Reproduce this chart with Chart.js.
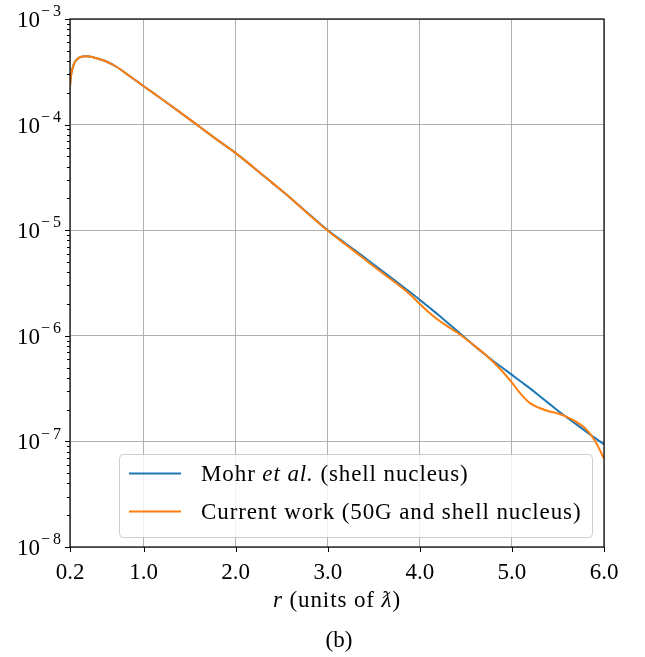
<!DOCTYPE html>
<html>
<head>
<meta charset="utf-8">
<script src="https://cdn.jsdelivr.net/npm/chart.js@4.4.1/dist/chart.umd.min.js"></script>
<style>
  html, body { margin: 0; padding: 0; background: #fff; }
</style>
</head>
<body>
<canvas id="chart" width="645" height="657"></canvas>
<script>
// r in units of reduced Compton wavelength
const radius = [0.2, 0.21, 0.22, 0.24, 0.26, 0.3, 0.34, 0.38, 0.45, 0.5, 0.6, 0.7, 0.8, 0.9,
  1.0, 1.2, 1.4, 1.6, 1.8, 2.0, 2.2, 2.4, 2.6, 2.8, 3.0, 3.2, 3.4, 3.6, 3.8, 3.9,
  4.0, 4.1, 4.2, 4.3, 4.4, 4.5, 4.6, 4.7, 4.8, 4.9, 5.0, 5.1, 5.2, 5.3, 5.4, 5.5,
  5.6, 5.7, 5.8, 5.9, 6.0];

const mohrShell = [2.3e-4, 2.85e-4, 3.2e-4, 3.7e-4, 4.0e-4, 4.3e-4, 4.42e-4, 4.45e-4, 4.35e-4, 4.22e-4,
  3.94e-4, 3.55e-4, 3.09e-4, 2.67e-4,
  2.31e-4, 1.74e-4, 1.30e-4, 9.66e-5, 7.16e-5, 5.37e-5, 3.89e-5, 2.79e-5, 2.0e-5, 1.41e-5,
  1.0e-5, 7.41e-6, 5.50e-6, 4.07e-6, 2.99e-6, 2.57e-6,
  2.19e-6, 1.86e-6, 1.58e-6, 1.33e-6, 1.12e-6, 9.44e-7, 7.94e-7, 6.76e-7, 5.75e-7, 4.95e-7,
  4.27e-7, 3.67e-7, 3.16e-7, 2.69e-7, 2.29e-7, 1.95e-7, 1.68e-7, 1.45e-7, 1.25e-7, 1.08e-7, 9.4e-8];

const currentWork = [2.3e-4, 2.85e-4, 3.2e-4, 3.7e-4, 4.0e-4, 4.3e-4, 4.42e-4, 4.45e-4, 4.35e-4, 4.22e-4,
  3.94e-4, 3.55e-4, 3.09e-4, 2.67e-4,
  2.31e-4, 1.74e-4, 1.30e-4, 9.66e-5, 7.16e-5, 5.37e-5, 3.89e-5, 2.79e-5, 2.0e-5, 1.39e-5,
  9.9e-6, 7.24e-6, 5.31e-6, 3.89e-6, 2.88e-6, 2.43e-6,
  2.0e-6, 1.66e-6, 1.41e-6, 1.23e-6, 1.08e-6, 9.33e-7, 7.94e-7, 6.76e-7, 5.62e-7, 4.57e-7,
  3.6e-7, 2.79e-7, 2.29e-7, 2.07e-7, 1.93e-7, 1.84e-7, 1.70e-7, 1.53e-7, 1.32e-7, 1.02e-7, 6.9e-8];

const xTicks = [0.2, 1.0, 2.0, 3.0, 4.0, 5.0, 6.0];
const yExponents = [-8, -7, -6, -5, -4, -3];

const BLUE = '#1f77b4';
const ORANGE = '#ff7f0e';
const SERIF = '"Liberation Serif", "DejaVu Serif", serif';

// draws what chart.js can't: frame, tick marks, 10^k labels, mixed-italic legend and titles
const decorations = {
  id: 'decorations',
  afterDraw(chart) {
    const { ctx, chartArea: a, scales: { x, y } } = chart;
    ctx.save();

    // tick marks
    ctx.strokeStyle = '#000';
    ctx.lineWidth = 1;
    ctx.beginPath();
    xTicks.forEach(v => {
      const px = Math.round(x.getPixelForValue(v)) + 0.5;
      ctx.moveTo(px, a.bottom);
      ctx.lineTo(px, a.bottom + 5);
    });
    yExponents.forEach(k => {
      const py = Math.round(y.getPixelForValue(Math.pow(10, k))) + 0.5;
      ctx.moveTo(a.left, py);
      ctx.lineTo(a.left - 5, py);
      if (k < -3) {
        for (let m = 2; m <= 9; m++) {
          const pm = Math.round(y.getPixelForValue(m * Math.pow(10, k))) + 0.5;
          ctx.moveTo(a.left, pm);
          ctx.lineTo(a.left - 3, pm);
        }
      }
    });
    ctx.stroke();

    // frame
    ctx.lineWidth = 1.2;
    ctx.strokeRect(a.left, a.top, a.right - a.left, a.bottom - a.top);

    // y labels 10^k
    ctx.fillStyle = '#000';
    ctx.textBaseline = 'middle';
    yExponents.forEach(k => {
      const py = y.getPixelForValue(Math.pow(10, k));
      const right = a.left - 9;
      ctx.textAlign = 'left';
      ctx.font = '16px ' + SERIF;
      const minusW = ctx.measureText('\u2212').width + 3;
      const digit = String(Math.abs(k));
      const supW = minusW + ctx.measureText(digit).width;
      const supX = right - supW;
      ctx.fillText('\u2212', supX, py - 7);
      ctx.fillText(digit, supX + minusW, py - 7);
      ctx.font = '23px ' + SERIF;
      ctx.textAlign = 'right';
      ctx.fillText('10', supX - 1, py + 2);
    });

    // legend box
    const lx = 119.5, ly = 454.5, lw = 473, lh = 83, r = 4;
    ctx.beginPath();
    ctx.roundRect(lx, ly, lw, lh, r);
    ctx.fillStyle = 'rgba(255,255,255,0.8)';
    ctx.fill();
    ctx.strokeStyle = '#cccccc';
    ctx.lineWidth = 1;
    ctx.stroke();

    const rows = [
      { color: BLUE, y: 473.5, parts: [['Mohr ', false], ['et al.', true], [' (shell nucleus)', false]] },
      { color: ORANGE, y: 511.5, parts: [['Current work (50G and shell nucleus)', false]] }
    ];
    ctx.textAlign = 'left';
    ctx.textBaseline = 'middle';
    ctx.letterSpacing = '0.9px';
    rows.forEach(row => {
      ctx.strokeStyle = row.color;
      ctx.lineWidth = 2;
      ctx.beginPath();
      ctx.moveTo(129, row.y);
      ctx.lineTo(181, row.y);
      ctx.stroke();
      let tx = 201;
      ctx.fillStyle = '#000';
      row.parts.forEach(([txt, it]) => {
        ctx.font = (it ? 'italic ' : '') + '23px ' + SERIF;
        ctx.fillText(txt, tx, row.y + 1);
        tx += ctx.measureText(txt).width;
      });
    });

    // x axis title: r (units of ƛ)
    const cx = (a.left + a.right) / 2;
    const titleParts = [['r', true], [' (units of ', false], ['\u019B', true], [')', false]];
    let total = 0;
    titleParts.forEach(([t, it]) => {
      ctx.font = (it ? 'italic ' : '') + '23px ' + SERIF;
      total += ctx.measureText(t).width;
    });
    let tx = cx - total / 2;
    titleParts.forEach(([t, it]) => {
      ctx.font = (it ? 'italic ' : '') + '23px ' + SERIF;
      ctx.fillText(t, tx, 601);
      tx += ctx.measureText(t).width;
    });

    ctx.letterSpacing = '0px';
    ctx.font = '23px ' + SERIF;
    ctx.textAlign = 'center';
    ctx.fillText('(b)', cx + 2, 641);
    ctx.restore();
  }
};

new Chart(document.getElementById('chart'), {
  type: 'line',
  data: {
    datasets: [
      {
        label: 'Mohr et al. (shell nucleus)',
        data: radius.map((r, i) => ({ x: r, y: mohrShell[i] })),
        borderColor: BLUE,
        borderWidth: 2,
        pointRadius: 0,
        cubicInterpolationMode: 'monotone',
        order: 1
      },
      {
        label: 'Current work (50G and shell nucleus)',
        data: radius.map((r, i) => ({ x: r, y: currentWork[i] })),
        borderColor: ORANGE,
        borderWidth: 2,
        pointRadius: 0,
        cubicInterpolationMode: 'monotone',
        order: 0
      }
    ]
  },
  options: {
    responsive: false,
    animation: false,
    layout: { padding: { top: 19, right: 41, left: 0, bottom: 0 } },
    plugins: { legend: { display: false }, tooltip: { enabled: false } },
    scales: {
      x: {
        type: 'linear',
        min: 0.2,
        max: 6.0,
        afterBuildTicks: s => { s.ticks = xTicks.map(v => ({ value: v })); },
        afterFit: s => { s.height = 110; },
        border: { display: false },
        grid: { color: '#b0b0b0', lineWidth: 1, drawTicks: false },
        ticks: {
          autoSkip: false,
          maxRotation: 0,
          padding: 12,
          color: '#000',
          font: { family: SERIF, size: 23 },
          callback: v => Number(v).toFixed(1)
        }
      },
      y: {
        type: 'logarithmic',
        min: 1e-8,
        max: 1e-3,
        afterBuildTicks: s => { s.ticks = yExponents.map(k => ({ value: Math.pow(10, k) })); },
        afterFit: s => { s.width = 70; },
        border: { display: false },
        grid: { color: '#b0b0b0', lineWidth: 1, drawTicks: false },
        ticks: { display: false }
      }
    }
  },
  plugins: [decorations]
});
</script>
</body>
</html>
